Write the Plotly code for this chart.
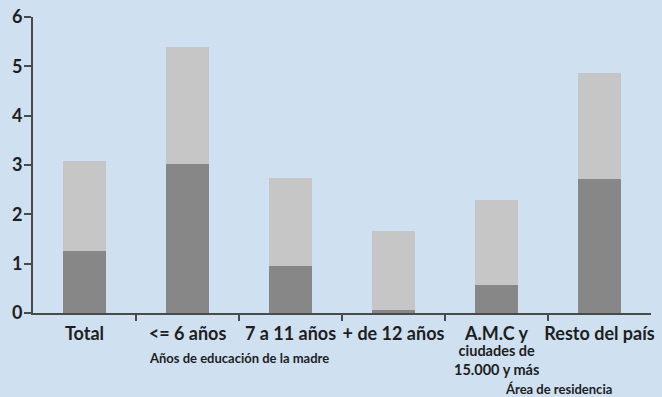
import plotly.graph_objects as go

categories = ["Total", "<= 6 años", "7 a 11 años", "+ de 12 años", "A.M.C y ciudades de 15.000 y más", "Resto del país"]
tick_labels = ["Total", "<= 6 años", "7 a 11 años", "+ de 12 años", "A.M.C y", "Resto del país"]
tick_sublabel = "ciudades de<br>15.000 y más"
dark_values = [1.25, 3.03, 0.96, 0.06, 0.57, 2.72]
total_values = [3.09, 5.40, 2.74, 1.66, 2.29, 4.87]
light_values = [t - d for t, d in zip(total_values, dark_values)]
y_ticks = [0, 1, 2, 3, 4, 5, 6]
group_titles = ["Años de educación de la madre", "Área de residencia"]

FONT = "Lato"
BG = "#cfe0f1"
AXIS = "#4a4a4a"
TXT = "#1e1e1e"

fig = go.Figure()
fig.add_trace(go.Bar(x=list(range(6)), y=dark_values, marker_color="#878787",
                     marker_line_width=0, width=0.41, showlegend=False))
fig.add_trace(go.Bar(x=list(range(6)), y=light_values, marker_color="#c6c6c6",
                     marker_line_width=0, width=0.41, showlegend=False))

# invisible trace for the secondary x-axis (boundary ticks)
fig.add_trace(go.Scatter(x=[0], y=[0], xaxis="x2", mode="markers",
                         marker_opacity=0, showlegend=False, hoverinfo="skip"))

fig.update_layout(
    barmode="stack",
    width=662, height=397,
    margin=dict(l=33, r=11, t=17, b=84, autoexpand=False),
    paper_bgcolor=BG, plot_bgcolor=BG,
    font=dict(family=FONT, color=TXT),
    xaxis=dict(range=[-0.5, 5.5], tickvals=list(range(6)), ticktext=tick_labels,
               showgrid=False, zeroline=False, showline=True, linecolor=AXIS, linewidth=2,
               ticks="", ticklabelstandoff=3, automargin=False,
               tickfont=dict(family=FONT, size=18, color=TXT, weight="bold"),
               fixedrange=True),
    xaxis2=dict(range=[-0.5, 5.5], overlaying="x", anchor="y", side="bottom",
                tickvals=[0.5, 1.5, 2.5, 3.5, 4.5], ticks="outside", ticklen=7,
                tickwidth=2, tickcolor=AXIS, showticklabels=False, showgrid=False,
                zeroline=False, showline=False, automargin=False),
    yaxis=dict(range=[0, 6], tickvals=y_ticks, showgrid=False, zeroline=False,
               showline=True, linecolor=AXIS, linewidth=2, ticks="outside", ticklen=7,
               tickwidth=2, tickcolor=AXIS, ticklabelstandoff=-2, automargin=False,
               tickfont=dict(family=FONT, size=18, color=TXT, weight="bold")),
)

fig.add_annotation(x=4, xref="x", y=-0.092, yref="paper", text=tick_sublabel,
                   showarrow=False, font=dict(family=FONT, size=14.5, color=TXT, weight="bold"),
                   yanchor="top")
fig.add_annotation(x=1.5, xref="x", y=-0.153, yref="paper", text=group_titles[0],
                   showarrow=False, font=dict(family=FONT, size=13, color=TXT, weight="bold"),
                   yanchor="middle")
fig.add_annotation(x=4.6, xref="x", y=-0.256, yref="paper", text=group_titles[1],
                   showarrow=False, font=dict(family=FONT, size=13, color=TXT, weight="bold"),
                   yanchor="middle")

fig.write_html("out.html")
